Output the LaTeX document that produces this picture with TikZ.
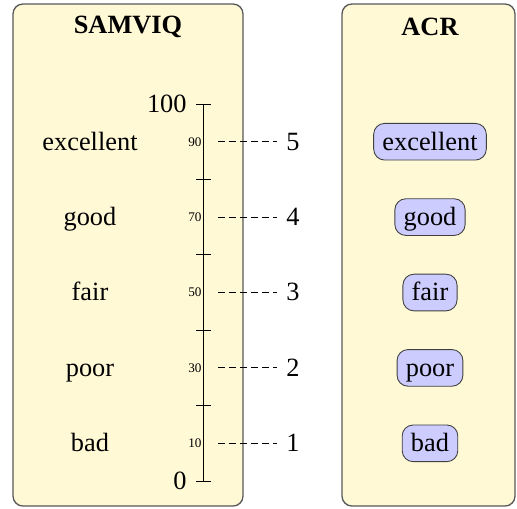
\documentclass[tikz,border=0pt,12pt]{standalone}
\usepackage{fontspec}
\setmainfont{Liberation Serif}
\usepackage{xcolor}
\definecolor{panelfill}{RGB}{255,249,214}
\definecolor{acrfill}{RGB}{204,204,255}

\begin{document}
\begin{tikzpicture}[x=0.016cm,y=-0.016cm,font=\fontsize{12}{14}\selectfont,
                    panel/.style={draw=black!65,fill=panelfill,line width=0.6pt,rounded corners=4.5pt},
                    heading/.style={font=\fontsize{12}{14}\selectfont\bfseries},
                    lbl/.style={text height=9.5pt,text depth=1.8pt},
                    acr/.style={lbl,draw=black!75,fill=acrfill,rounded corners=5pt,
                                inner xsep=4pt,inner ysep=2.7pt},
                    smallnum/.style={font=\fontsize{6}{7}\selectfont,anchor=east,inner sep=0pt}]
                    \useasboundingbox (0,0) rectangle (517,508);
                    \draw[panel] (13,4) rectangle (243,506);
                    \draw[panel] (342,4) rectangle (515,506);
                    \node[heading] (samviq) at (128,27) {SAMVIQ};
                    \node[heading] (acr) at (430,27) {ACR};
                    % scale
                    \draw (203,104) -- (203,481);
                    \foreach \v in {0,20,...,100}
                        \draw (196,{481-3.77*\v}) -- (211,{481-3.77*\v});
                    \node[anchor=east,inner sep=0pt] (max) at (187,104) {100};
                    \node[anchor=east,inner sep=0pt] (min) at (187,481) {0};
                    % categories
                    \foreach \lab/\v/\n in {excellent/90/5,good/70/4,fair/50/3,poor/30/2,bad/10/1} {
                        \node[lbl] (samviq-\n) at (90,{481-3.77*\v}) {\lab};
                        \node[smallnum] (val-\n) at (202,{481-3.77*\v}) {\v};
                        \coordinate (from-\n) at (218,{481-3.77*\v});
                        \node[lbl] (mos-\n) at (293,{481-3.77*\v}) {\n};
                        \draw[dash pattern=on 3.2pt off 1.8pt] (from-\n) -- (mos-\n.west);
                        \node[acr] (acr-\n) at (430,{481-3.77*\v}) {\lab};
                    }
                \end{tikzpicture}
\end{document}
